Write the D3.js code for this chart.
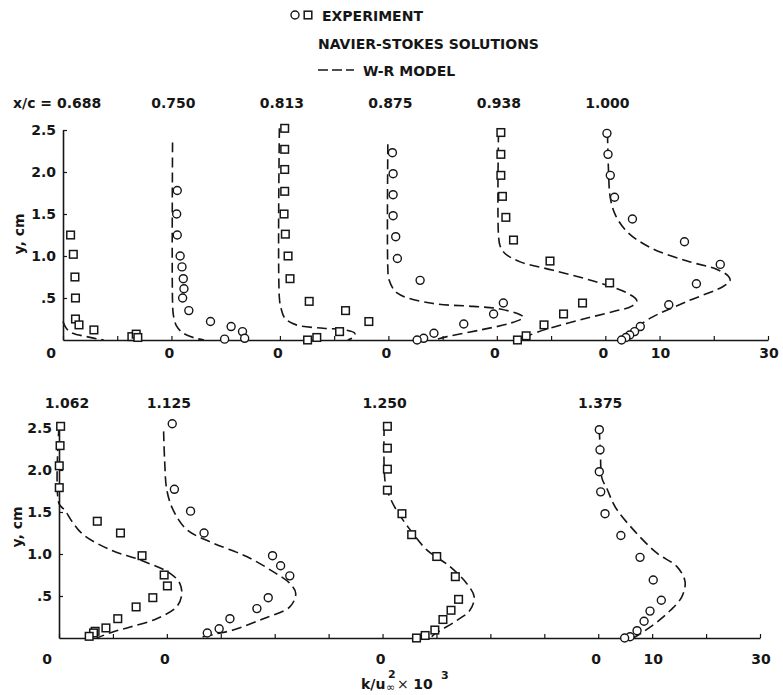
<!DOCTYPE html>
<html><head><meta charset="utf-8">
<script src="https://cdn.jsdelivr.net/npm/d3@7"></script>
<style>body{margin:0;background:#fff}svg{display:block}</style>
</head><body>
<svg id="c" width="783" height="695"></svg>
<script>
// ---------------- DATA ----------------
const xcTop = ["x/c = 0.688","0.750","0.813","0.875","0.938","1.000"];
const xcBottom = ["1.062","1.125","1.250","1.375"];
const offsetsTop = [0,20,40,60,80,100];      // horizontal origin of each profile (k units)
const offsetsBottom = [0,20,60,100];
const symbolsTop = ["square","circle","square","circle","square","circle"];
const symbolsBottom = ["square","circle","square","circle"];
const yTicks = [0.5,1.0,1.5,2.0,2.5];
const yTickLabels = [".5","1.0","1.5","2.0","2.5"];
const xMinorTicks = [0,10,20,30,40,50,60,70,80,90,100,110,120,130];
const xProfileZeroLabel = "0";
const xExtraTicks = [10,30];                  // relative to last profile
const xExtraLabels = ["10","30"];
const xAxisTitle = ["k/u","2","∞","× 10","3"];
const yAxisTitle = "y, cm";
const legendLabels = ["EXPERIMENT","NAVIER-STOKES SOLUTIONS","W-R MODEL"];

// experiment [k, y]
const exp0688 = [[1.4,1.25],[1.9,1.02],[2.2,0.75],[2.3,0.50],[2.3,0.25],[2.95,0.18],[5.7,0.12],[12.7,0.04],[13.5,0.07],[13.8,0.03]];
const exp0750 = [[1.07,1.78],[0.96,1.50],[1.07,1.25],[1.6,1.0],[1.94,0.87],[2.18,0.73],[2.3,0.61],[2.06,0.50],[3.2,0.35],[7.2,0.22],[11.0,0.16],[13.1,0.10],[9.8,0.01],[13.5,0.02]];
const exp0813 = [[0.88,2.52],[0.88,2.27],[0.88,2.03],[0.88,1.77],[0.76,1.50],[1.0,1.26],[1.5,1.0],[1.86,0.73],[5.4,0.46],[12.1,0.35],[16.4,0.22],[11.0,0.10],[6.8,0.03],[5.1,0.0]];
const exp0875 = [[0.74,2.23],[0.87,1.98],[0.87,1.73],[0.87,1.48],[1.35,1.23],[1.66,0.97],[5.85,0.71],[21.2,0.44],[19.4,0.31],[13.9,0.19],[8.4,0.08],[6.5,0.02],[5.3,0.0]];
const exp0938 = [[0.74,2.47],[0.74,2.21],[0.74,1.96],[1.03,1.71],[1.66,1.46],[3.07,1.19],[9.8,0.94],[20.8,0.68],[15.8,0.44],[12.3,0.31],[8.7,0.18],[5.4,0.05],[3.8,0.0]];
const exp1000 = [[0.3,2.46],[0.5,2.21],[0.92,1.96],[1.7,1.70],[5.0,1.44],[14.6,1.17],[21.2,0.90],[16.8,0.67],[11.7,0.42],[6.45,0.16],[5.4,0.10],[4.5,0.06],[3.8,0.03],[3.0,0.0]];
const exp1062 = [[0.3,2.52],[0.2,2.29],[0.05,2.05],[0.05,1.79],[7.1,1.39],[11.4,1.25],[15.4,0.98],[19.5,0.75],[20.1,0.62],[17.4,0.48],[14.3,0.37],[10.9,0.23],[8.7,0.12],[6.7,0.08],[6.4,0.06],[5.6,0.02]];
const exp1125 = [[1.0,2.55],[1.4,1.77],[4.4,1.51],[6.9,1.25],[19.6,0.98],[21.1,0.86],[22.8,0.74],[18.8,0.48],[16.7,0.35],[11.7,0.23],[9.7,0.11],[7.5,0.06]];
const exp1250 = [[0.9,2.52],[0.9,2.26],[0.9,2.01],[0.9,1.76],[3.6,1.48],[5.4,1.23],[10.05,0.97],[13.5,0.73],[14.1,0.46],[12.7,0.33],[11.2,0.22],[9.7,0.095],[7.9,0.03],[6.3,0.0]];
const exp1375 = [[0.2,2.48],[0.33,2.24],[0.2,1.98],[0.46,1.74],[1.26,1.48],[4.2,1.22],[7.75,0.96],[10.2,0.69],[11.7,0.45],[9.6,0.32],[8.5,0.20],[7.2,0.087],[5.9,0.015],[4.9,0.0]];

// Navier-Stokes, W-R model [k, y]
const wr0688 = [[0,0.22],[0.6,0.14],[1.8,0.08],[4.4,0.04],[6.5,0.01],[7.5,0]];
const wr0750 = [[0.2,2.35],[0.2,0.45],[0.35,0.3],[0.9,0.17],[1.8,0.1],[2.8,0.06],[4.5,0.02],[6,0]];
const wr0813 = [[-0.1,2.52],[-0.1,0.5],[0.2,0.38],[0.9,0.26],[3.0,0.18],[8.0,0.14],[12.0,0.12],[13.8,0.08],[13.5,0.03],[12.5,0.0]];
const wr0875 = [[-0.1,2.33],[-0.1,0.85],[0.1,0.72],[1.6,0.56],[7.7,0.44],[15.7,0.40],[20.6,0.37],[24.3,0.30],[24.9,0.27],[22.5,0.20],[17,0.12],[10.8,0.04],[8.4,0]];
const wr0938 = [[0.3,2.47],[0.3,1.25],[0.6,1.12],[1.5,1.03],[4.3,0.93],[10.4,0.83],[18.4,0.69],[24,0.56],[25.8,0.47],[24.8,0.40],[21.5,0.34],[15.4,0.24],[9.2,0.13],[5.8,0.05],[4.3,0]];
const wr1000 = [[0.4,2.46],[0.6,2.0],[0.9,1.7],[1.85,1.49],[4.0,1.29],[8.3,1.10],[15.1,0.94],[20.6,0.84],[22.7,0.76],[23.0,0.71],[21.8,0.64],[15.1,0.46],[8.3,0.26],[5.2,0.12],[2.8,0]];
const wr1062 = [[0,2.52],[0,1.6],[1.1,1.52],[2.5,1.38],[4.5,1.23],[9.5,1.05],[15,0.93],[20.6,0.77],[22.4,0.65],[22.75,0.51],[21.8,0.37],[18.1,0.23],[13.2,0.13],[10.1,0.075],[7.0,0]];
const wr1125 = [[-0.6,2.46],[-0.4,2.1],[0,1.76],[1.2,1.52],[3.7,1.29],[8.6,1.13],[14.8,0.97],[19.7,0.79],[22.8,0.65],[23.9,0.53],[22.8,0.37],[17.9,0.23],[12.3,0.095],[9.2,0.05],[5.8,0]];
const wr1250 = [[0.3,2.52],[0.5,1.85],[1.4,1.67],[2.6,1.52],[5.1,1.29],[8.2,1.05],[12.5,0.85],[15.6,0.65],[17.0,0.49],[16.2,0.33],[13.8,0.21],[10.0,0.06],[8.8,0]];
const wr1375 = [[0.2,2.48],[0.4,2.2],[0.7,1.9],[1.6,1.78],[3.15,1.56],[6.5,1.29],[10.9,1.01],[14.6,0.85],[16.1,0.67],[15.5,0.49],[13.4,0.33],[10.9,0.19],[8.4,0.075],[6.5,0]];

const expTop = [exp0688,exp0750,exp0813,exp0875,exp0938,exp1000];
const wrTop = [wr0688,wr0750,wr0813,wr0875,wr0938,wr1000];
const expBottom = [exp1062,exp1125,exp1250,exp1375];
const wrBottom = [wr1062,wr1125,wr1250,wr1375];

// ---------------- DRAW ----------------
const INK = "#161616";
const FONT = "'DejaVu Sans', sans-serif";
const svg = d3.select("#c");
svg.append("rect").attr("width",783).attr("height",695).attr("fill","#fff");

function marker(g, type, cx, cy){
  if(type==="circle"){
    g.append("circle").attr("cx",cx).attr("cy",cy).attr("r",4)
      .attr("fill","#fff").attr("stroke",INK).attr("stroke-width",1.4);
  } else {
    const s=7.6;
    g.append("rect").attr("x",cx-s/2).attr("y",cy-s/2).attr("width",s).attr("height",s)
      .attr("fill","#fff").attr("stroke",INK).attr("stroke-width",1.5);
  }
}

function txt(g, x, y, s, opt={}){
  return g.append("text").attr("x",x).attr("y",y).text(s)
    .attr("font-family",FONT).attr("font-weight",opt.weight||"bold")
    .attr("font-size",opt.size||14).attr("fill",INK)
    .attr("text-anchor",opt.anchor||"start");
}

function panel(cfg){
  const x = d3.scaleLinear().domain([0,130]).range(cfg.xr);
  const y = d3.scaleLinear().domain([0,2.5]).range(cfg.yr);
  const g = svg.append("g");

  g.append("g").attr("transform",`translate(0,${y(0)})`)
    .call(d3.axisBottom(x).tickValues(xMinorTicks).tickSize(-4).tickSizeOuter(0).tickFormat(""))
    .call(a=>a.select(".domain").attr("stroke",INK).attr("stroke-width",1.6))
    .call(a=>a.selectAll(".tick line").attr("stroke",INK).attr("stroke-width",1.2));
  g.append("g").attr("transform",`translate(${x(0)},0)`)
    .call(d3.axisLeft(y).tickValues(yTicks).tickSize(-4).tickSizeOuter(0).tickFormat(""))
    .call(a=>a.select(".domain").attr("stroke",INK).attr("stroke-width",1.6))
    .call(a=>a.selectAll(".tick line").attr("stroke",INK).attr("stroke-width",1.2));

  yTicks.forEach((v,i)=>txt(g, x(0)-7, y(v)+5, yTickLabels[i], {anchor:"end"}));
  g.append("text").attr("transform",`translate(${cfg.yTitleX},${cfg.yTitleY}) rotate(-90)`)
    .attr("text-anchor","middle").attr("font-family",FONT).attr("font-weight","bold")
    .attr("font-size",14).attr("fill",INK).text(yAxisTitle);

  cfg.offsets.forEach((o,i)=>{
    const px = i===0 ? x(o)-12 : x(o)-2;
    txt(g, px, cfg.xLabY, xProfileZeroLabel, {anchor:"middle"});
  });
  const last = cfg.offsets[cfg.offsets.length-1];
  xExtraTicks.forEach((t,i)=>txt(g, x(last+t)+1, cfg.xLabY, xExtraLabels[i], {anchor:"middle"}));

  cfg.labels.forEach((s,i)=>{
    const o = cfg.offsets[i];
    if(i===0 && cfg.firstStart!=null) txt(g, cfg.firstStart, cfg.labY, s, {anchor:"start"});
    else txt(g, x(o)+(i===0?8:2), cfg.labY, s, {anchor:"middle"});
  });

  const line = d3.line().curve(d3.curveCatmullRom.alpha(0.5));
  cfg.models.forEach((m,i)=>{
    const o = cfg.offsets[i];
    g.append("path").attr("d", line(m.map(d=>[x(o+d[0]), y(d[1])])))
      .attr("fill","none").attr("stroke",INK).attr("stroke-width",1.6)
      .attr("stroke-dasharray","10,5");
  });
  cfg.exps.forEach((e,i)=>{
    const o = cfg.offsets[i];
    e.forEach(d=>marker(g, cfg.symbols[i], x(o+d[0]), y(d[1])));
  });
}

panel({xr:[63,768], yr:[340,130], offsets:offsetsTop, labels:xcTop, symbols:symbolsTop,
  exps:expTop, models:wrTop, xLabY:358, labY:108, firstStart:13, yTitleX:24, yTitleY:234});
panel({xr:[59,760], yr:[638,428], offsets:offsetsBottom, labels:xcBottom, symbols:symbolsBottom,
  exps:expBottom, models:wrBottom, xLabY:664, labY:408, firstStart:null, yTitleX:22, yTitleY:527});

// x-axis title  k/u∞² × 10³
const tg = svg.append("g");
txt(tg, 361, 689, xAxisTitle[0]);
txt(tg, 388, 678, xAxisTitle[1], {size:11});
txt(tg, 386, 691, xAxisTitle[2], {size:11, weight:"normal"});
const t2 = tg.append("text").attr("x",397).attr("y",689).attr("font-family",FONT).attr("font-size",14).attr("fill",INK);
t2.append("tspan").attr("font-weight","normal").text("× ");
t2.append("tspan").attr("font-weight","bold").text("10");
txt(tg, 441, 679, xAxisTitle[4], {size:11});

// legend
const lg = svg.append("g");
marker(lg, "circle", 295, 15);
marker(lg, "square", 308, 15);
txt(lg, 322, 21, legendLabels[0]);
txt(lg, 318, 49, legendLabels[1]);
lg.append("line").attr("x1",318).attr("x2",354).attr("y1",70).attr("y2",70)
  .attr("stroke",INK).attr("stroke-width",1.6).attr("stroke-dasharray","10,4");
txt(lg, 363, 76, legendLabels[2]);
</script>
</body></html>
